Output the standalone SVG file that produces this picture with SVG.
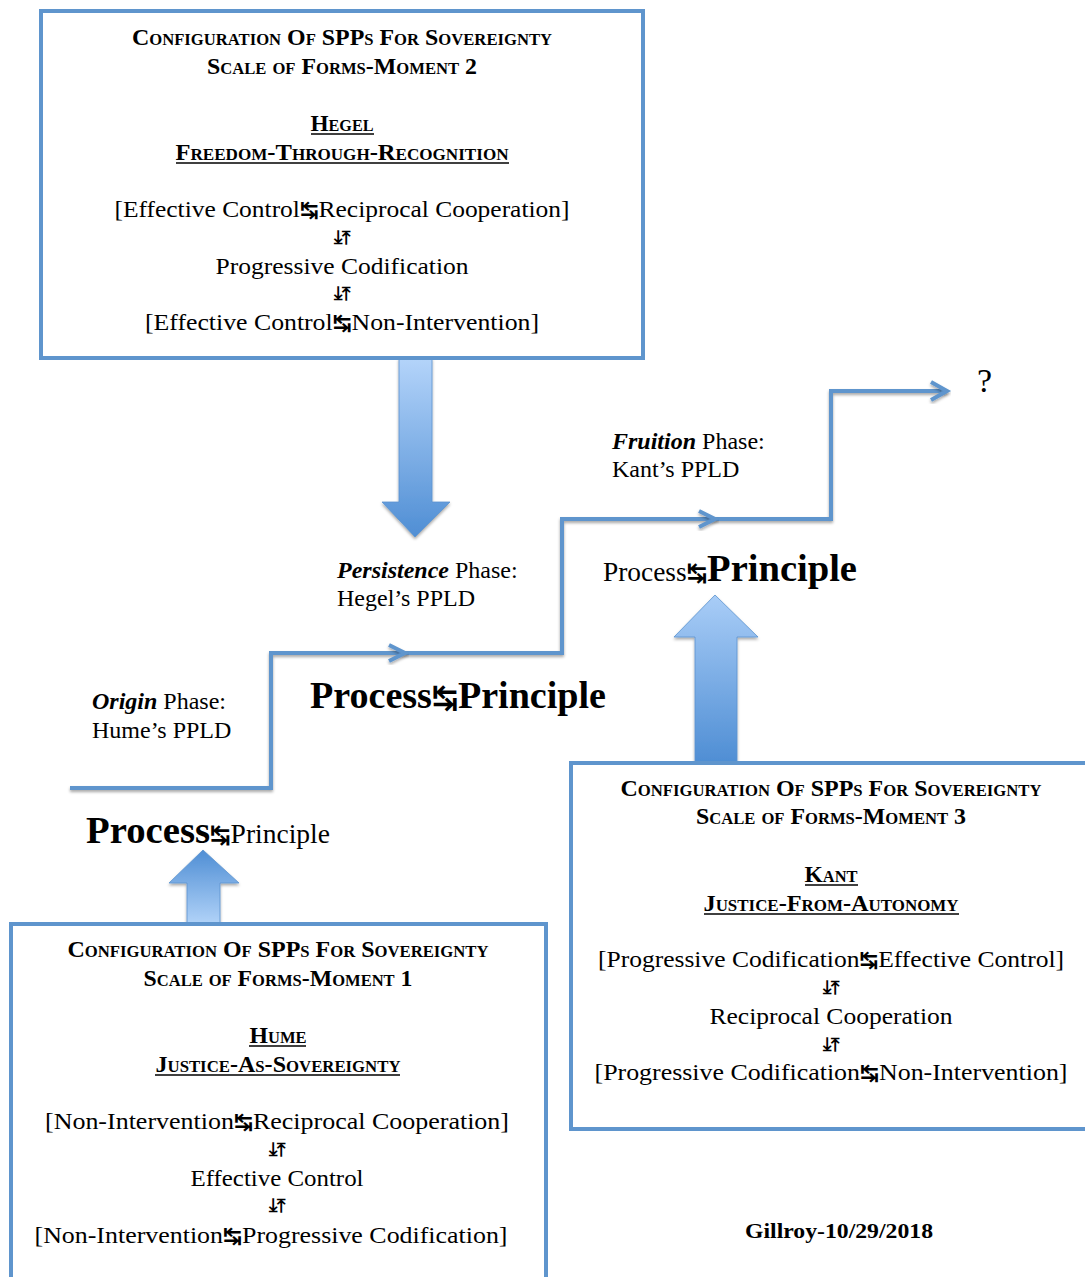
<svg xmlns="http://www.w3.org/2000/svg" width="1085" height="1277" viewBox="0 0 1085 1277">
<style>
.box{fill:#fff;stroke:#5f95cd;stroke-width:4}
.hd{font-family:"Liberation Serif","DejaVu Serif",serif;font-weight:bold;font-variant:small-caps;font-size:23px;text-anchor:middle;fill:#000}
.bt{font-family:"Liberation Serif","DejaVu Serif",serif;font-size:24px;text-anchor:middle;fill:#000}
.ar{font-family:"DejaVu Sans",sans-serif;font-size:19px;font-weight:bold;text-anchor:middle;fill:#000}
.ul{stroke:#000;stroke-width:1.5}
.tm{font-family:"Liberation Serif",serif;font-size:24px;fill:#000}
.stair{fill:none;stroke:#5f95cd;stroke-width:4;stroke-linejoin:miter}
.sym{font-family:"DejaVu Sans",sans-serif;font-weight:bold}
.bs{font-size:21px}
</style>
<defs>
<filter id="sh" x="-20%" y="-20%" width="140%" height="140%">
<feDropShadow dx="0" dy="2" stdDeviation="1.5" flood-color="#000" flood-opacity="0.35"/>
</filter>
<linearGradient id="gDown" x1="0" y1="0" x2="0" y2="1">
<stop offset="0" stop-color="#b4d4fa"/>
<stop offset="1" stop-color="#4f8ed4"/>
</linearGradient>
<linearGradient id="gUpR" x1="0" y1="0" x2="0" y2="1">
<stop offset="0" stop-color="#a9cdf7"/>
<stop offset="1" stop-color="#4f8ed4"/>
</linearGradient>
<linearGradient id="gUpL" x1="0" y1="0" x2="0" y2="1">
<stop offset="0" stop-color="#4f8ed4"/>
<stop offset="1" stop-color="#b0d2f8"/>
</linearGradient>
</defs>

<g id="connectors">
<polyline class="stair" filter="url(#sh)" points="70,788 271,788 271,653 562,653 562,519 831,519 831,391 947,391"/>
<polyline class="stair" filter="url(#sh)" points="389,645 405,653 389,661"/>
<polyline class="stair" filter="url(#sh)" points="699,511 715,519 699,527"/>
<polyline class="stair" filter="url(#sh)" points="931,382 947,391 931,400"/>
<polygon id="arrow-down" filter="url(#sh)" fill="url(#gDown)" stroke="#5a93cf" stroke-width="0.8" points="399,358 432,358 432,502 450,502 415,537 382,502 399,502"/>
<polygon id="arrow-up-right" filter="url(#sh)" fill="url(#gUpR)" stroke="#5a93cf" stroke-width="0.8" points="715,595 758,637 737,637 737,762 695,762 695,637 674,637"/>
<polygon id="arrow-up-left" filter="url(#sh)" fill="url(#gUpL)" stroke="#5a93cf" stroke-width="0.8" points="203,850 239,883 220,883 220,923 187,923 187,883 169,883"/>
</g>

<g id="node-moment2">
<rect class="box" x="41" y="11" width="602" height="347"/>
<text class="hd" x="342" y="45" textLength="420" lengthAdjust="spacingAndGlyphs">Configuration Of SPPs For Sovereignty</text>
<text class="hd" x="342" y="74" textLength="270" lengthAdjust="spacingAndGlyphs">Scale of Forms-Moment 2</text>
<text class="hd" x="342" y="131" textLength="63" lengthAdjust="spacingAndGlyphs">Hegel</text>
<line class="ul" x1="311" y1="134" x2="374" y2="134"/>
<text class="hd" x="342" y="160" textLength="333" lengthAdjust="spacingAndGlyphs">Freedom-Through-Recognition</text>
<line class="ul" x1="176" y1="163" x2="509" y2="163"/>
<text class="bt" x="342" y="217" textLength="455" lengthAdjust="spacingAndGlyphs">[Effective Control<tspan class="sym bs">↹</tspan>Reciprocal Cooperation]</text>
<text class="ar" x="342" y="244">⤓⤒</text>
<text class="bt" x="342" y="274" textLength="253" lengthAdjust="spacingAndGlyphs">Progressive Codification</text>
<text class="ar" x="342" y="300">⤓⤒</text>
<text class="bt" x="342" y="330" textLength="394" lengthAdjust="spacingAndGlyphs">[Effective Control<tspan class="sym bs">↹</tspan>Non-Intervention]</text>
</g>

<g id="node-moment3">
<rect class="box" x="571" y="763" width="530" height="366"/>
<text class="hd" x="831" y="796" textLength="421" lengthAdjust="spacingAndGlyphs">Configuration Of SPPs For Sovereignty</text>
<text class="hd" x="831" y="824" textLength="270" lengthAdjust="spacingAndGlyphs">Scale of Forms-Moment 3</text>
<text class="hd" x="831" y="882" textLength="53" lengthAdjust="spacingAndGlyphs">Kant</text>
<line class="ul" x1="805" y1="885" x2="858" y2="885"/>
<text class="hd" x="831" y="911" textLength="255" lengthAdjust="spacingAndGlyphs">Justice-From-Autonomy</text>
<line class="ul" x1="704" y1="914" x2="959" y2="914"/>
<text class="bt" x="831" y="967" textLength="466" lengthAdjust="spacingAndGlyphs">[Progressive Codification<tspan class="sym bs">↹</tspan>Effective Control]</text>
<text class="ar" x="831" y="994">⤓⤒</text>
<text class="bt" x="831" y="1024" textLength="243" lengthAdjust="spacingAndGlyphs">Reciprocal Cooperation</text>
<text class="ar" x="831" y="1051">⤓⤒</text>
<text class="bt" x="831" y="1080" textLength="473" lengthAdjust="spacingAndGlyphs">[Progressive Codification<tspan class="sym bs">↹</tspan>Non-Intervention]</text>
</g>

<g id="node-moment1">
<rect class="box" x="11" y="924" width="535" height="380"/>
<text class="hd" x="278" y="957" textLength="421" lengthAdjust="spacingAndGlyphs">Configuration Of SPPs For Sovereignty</text>
<text class="hd" x="278" y="986" textLength="269" lengthAdjust="spacingAndGlyphs">Scale of Forms-Moment 1</text>
<text class="hd" x="278" y="1043" textLength="57" lengthAdjust="spacingAndGlyphs">Hume</text>
<line class="ul" x1="249" y1="1046" x2="306" y2="1046"/>
<text class="hd" x="278" y="1072" textLength="245" lengthAdjust="spacingAndGlyphs">Justice-As-Sovereignty</text>
<line class="ul" x1="155" y1="1075" x2="400" y2="1075"/>
<text class="bt" x="277" y="1129" textLength="464" lengthAdjust="spacingAndGlyphs">[Non-Intervention<tspan class="sym bs">↹</tspan>Reciprocal Cooperation]</text>
<text class="ar" x="277" y="1156">⤓⤒</text>
<text class="bt" x="277" y="1186" textLength="173" lengthAdjust="spacingAndGlyphs">Effective Control</text>
<text class="ar" x="277" y="1212">⤓⤒</text>
<text class="bt" x="271" y="1243" textLength="473" lengthAdjust="spacingAndGlyphs">[Non-Intervention<tspan class="sym bs">↹</tspan>Progressive Codification]</text>
</g>

<g id="labels">
<text class="tm" x="92" y="709"><tspan font-weight="bold" font-style="italic">Origin</tspan> Phase:</text>
<text class="tm" x="92" y="738">Hume’s PPLD</text>
<text class="tm" x="337" y="578"><tspan font-weight="bold" font-style="italic">Persistence</tspan> Phase:</text>
<text class="tm" x="337" y="606">Hegel’s PPLD</text>
<text class="tm" x="612" y="449"><tspan font-weight="bold" font-style="italic">Fruition</tspan> Phase:</text>
<text class="tm" x="612" y="477">Kant’s PPLD</text>
<text class="tm" x="977" y="392" style="font-size:34px">?</text>
<text class="tm" x="310" y="708" style="font-size:38px;font-weight:bold" textLength="296" lengthAdjust="spacingAndGlyphs">Process<tspan class="sym" style="font-size:31px">↹</tspan>Principle</text>
<text class="tm" x="603" y="581" textLength="254" lengthAdjust="spacingAndGlyphs"><tspan style="font-size:27px">Process</tspan><tspan class="sym" style="font-size:24px">↹</tspan><tspan style="font-size:38px;font-weight:bold">Principle</tspan></text>
<text class="tm" x="86" y="843" textLength="244" lengthAdjust="spacingAndGlyphs"><tspan style="font-size:38px;font-weight:bold">Process</tspan><tspan class="sym" style="font-size:24px">↹</tspan><tspan style="font-size:27px">Principle</tspan></text>
<text x="839" y="1238" font-family="Liberation Serif, serif" font-weight="bold" font-size="20" text-anchor="middle" textLength="188" lengthAdjust="spacingAndGlyphs">Gillroy-10/29/2018</text>
</g>
</svg>
